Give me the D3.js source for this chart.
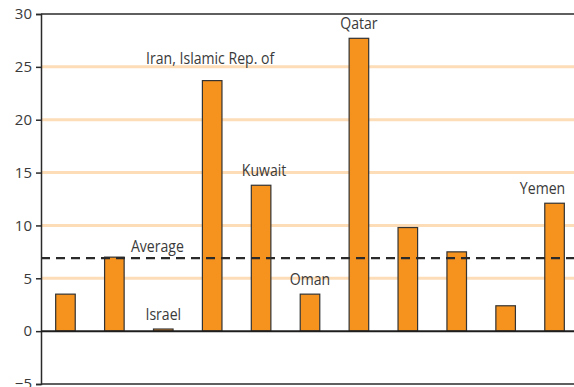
<!DOCTYPE html>
<html>
<head>
<meta charset="utf-8">
<script src="https://cdn.jsdelivr.net/npm/d3@7/dist/d3.min.js"></script>
<style>
  html, body { margin: 0; padding: 0; background: #fff; }
  svg { display: block; }
  text { font-family: "Open Sans", "DejaVu Sans", sans-serif; fill: #3a3a3a; }
</style>
</head>
<body>
<svg id="chart" width="574" height="387"></svg>
<script>
// Bar labels (blank where a bar carries no label)
const labels = ["", "", "Israel", "Iran, Islamic Rep. of", "Kuwait", "Oman", "Qatar", "", "", "", "Yemen"];
// Bar values
const values = [3.5, 7.0, 0.2, 23.7, 13.8, 3.5, 27.7, 9.8, 7.5, 2.4, 12.1];
// Average across all bars
const average = 6.9;
const averageLabel = "Average";
// Y axis ticks
const yTicks = [-5, 0, 5, 10, 15, 20, 25, 30];
const gridTicks = [5, 10, 15, 20, 25];

const svg = d3.select("#chart");
const plotLeft = 41, plotTop = 14, plotBottom = 384, plotRight = 579, edge = 574;
const narrow = 0.88; // horizontal squeeze for the condensed label face

const y = d3.scaleLinear().domain([-5, 30]).range([plotBottom, plotTop]);
const x = d3.scaleBand().domain(d3.range(values.length)).range([plotLeft, plotRight])
  .paddingInner(0.6).paddingOuter(0.3);

// Grid lines
svg.append("g").selectAll("line").data(gridTicks).join("line")
  .attr("x1", plotLeft).attr("x2", edge)
  .attr("y1", d => y(d)).attr("y2", d => y(d))
  .attr("stroke", "#fddcb8").attr("stroke-width", 3);

// Top and bottom frame lines
svg.append("g").selectAll("line").data([30, -5]).join("line")
  .attr("x1", plotLeft).attr("x2", edge)
  .attr("y1", d => y(d)).attr("y2", d => y(d))
  .attr("stroke", "#2a2a2a").attr("stroke-width", 1.5);

// Y axis
const yAxis = d3.axisLeft(y).tickValues(yTicks).tickSize(5).tickPadding(4).tickFormat(d3.format("d"));
const ya = svg.append("g").attr("transform", `translate(${plotLeft},0)`).call(yAxis);
ya.select(".domain").attr("stroke", "#2a2a2a").attr("stroke-width", 1.5);
ya.selectAll(".tick line").attr("stroke", "#2a2a2a").attr("stroke-width", 1.5);
ya.selectAll(".tick text").attr("font-size", 15).style("fill", "#3a3a3a")
  .style("font-family", "'Open Sans', sans-serif");

// Bars
svg.append("g").selectAll("rect").data(values).join("rect")
  .attr("x", (d, i) => x(i))
  .attr("width", x.bandwidth())
  .attr("y", d => y(Math.max(d, 0)))
  .attr("height", d => Math.abs(y(d) - y(0)))
  .attr("fill", "#f6921e")
  .attr("stroke", "#333").attr("stroke-width", 1.2);

// Zero line
svg.append("line")
  .attr("x1", plotLeft).attr("x2", edge)
  .attr("y1", y(0)).attr("y2", y(0))
  .attr("stroke", "#1e1e1e").attr("stroke-width", 2);

// Average line
svg.append("line")
  .attr("x1", plotLeft).attr("x2", edge)
  .attr("y1", y(average)).attr("y2", y(average))
  .attr("stroke", "#2a2a2a").attr("stroke-width", 2.2)
  .attr("stroke-dasharray", "9,6");

function label(px, py, str) {
  svg.append("text")
    .attr("transform", `translate(${px},${py}) scale(${narrow},1)`)
    .attr("text-anchor", "middle")
    .attr("font-size", 16)
    .text(str);
}

label(x(1) + x.bandwidth() / 2 + 43, y(average) - 6, averageLabel);

// Bar labels: lifted clear of the bar top, the long one a little higher, the last one kept inside the edge
const lift = i => labels[i].length > 12 ? 17 : 9;
const shift = i => i === values.length - 1 ? -12 : (i === 4 ? 3 : (i === 3 ? -2 : 0));
values.forEach((d, i) => {
  if (labels[i]) label(x(i) + x.bandwidth() / 2 + shift(i), y(d) - lift(i), labels[i]);
});
</script>
</body>
</html>
